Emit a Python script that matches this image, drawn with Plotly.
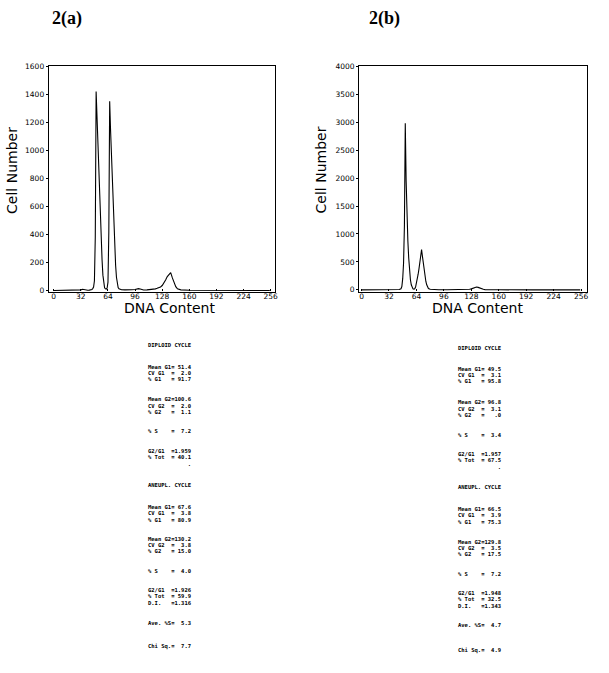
import plotly.graph_objects as go

W, H = 609, 673

# ---------------- data ----------------
panel_titles = ["2(a)", "2(b)"]
x_title = "DNA Content"
y_title = "Cell Number"
x_ticks = [0, 32, 64, 96, 128, 160, 192, 224, 256]
a_y_ticks = [0, 200, 400, 600, 800, 1000, 1200, 1400, 1600]
b_y_ticks = [0, 500, 1000, 1500, 2000, 2500, 3000, 3500, 4000]

a_channels = [0, 28, 32, 34, 36, 38, 40, 42, 44, 45,
              46, 47, 48, 49, 50, 51, 52, 53, 54, 55,
              56, 57, 58, 59, 60, 61, 62, 63, 64, 65,
              66, 67, 68, 69, 70, 71, 72, 73, 74, 75,
              76, 77, 78, 80, 84, 88, 92, 96, 98, 100,
              102, 104, 106, 110, 114, 118, 120, 122, 124, 126,
              128, 130, 132, 134, 136, 138, 140, 142, 144, 146,
              150, 160, 200, 255]
a_counts = [0, 0, 5, 9, 6, 3, 2, 3, 5, 8,
            14, 25, 70, 380, 1420, 1230, 1060, 900, 720, 540,
            370, 220, 110, 45, 20, 12, 10, 18, 60, 420,
            1350, 1150, 980, 800, 620, 450, 300, 180, 95, 45,
            22, 12, 8, 6, 5, 4, 6, 8, 12, 14,
            11, 7, 4, 5, 6, 9, 12, 16, 20, 26,
            36, 52, 75, 100, 118, 128, 90, 55, 28, 12,
            5, 2, 0, 0]

b_channels = [0, 14, 16, 30, 40, 44, 46, 47, 48, 49,
              50, 51, 52, 53, 54, 55, 56, 57, 58, 59,
              60, 61, 62, 63, 64, 65, 66, 67, 68, 69,
              70, 71, 72, 73, 74, 75, 76, 77, 78, 80,
              84, 90, 100, 110, 120, 126, 128, 130, 132, 134,
              136, 138, 140, 142, 144, 150, 160, 200, 255]
b_counts = [0, 0, 2, 0, 3, 6, 20, 60, 200, 480,
            1150, 2980, 1950, 1300, 880, 570, 330, 180, 90, 40,
            18, 12, 20, 50, 110, 190, 280, 380, 500, 610,
            720, 600, 470, 350, 240, 150, 90, 50, 25, 10,
            5, 3, 3, 2, 5, 10, 18, 30, 42, 50,
            44, 30, 18, 10, 5, 2, 1, 0, 0]

a_stats = ["DIPLOID CYCLE",
           "Mean G1= 51.4", "CV G1  =  2.0", "% G1   = 91.7",
           "Mean G2=100.6", "CV G2  =  2.0", "% G2   =  1.1",
           "% S    =  7.2",
           "G2/G1  =1.959", "% Tot  = 40.1", "            .",
           "ANEUPL. CYCLE",
           "Mean G1= 67.6", "CV G1  =  3.8", "% G1   = 80.9",
           "Mean G2=130.2", "CV G2  =  3.8", "% G2   = 15.0",
           "% S    =  4.0",
           "G2/G1  =1.926", "% Tot  = 59.9", "D.I.   =1.316",
           "Ave. %S=  5.3",
           "Chi Sq.=  7.7"]
b_stats = ["DIPLOID CYCLE",
           "Mean G1= 49.5", "CV G1  =  3.1", "% G1   = 95.8",
           "Mean G2= 96.8", "CV G2  =  3.1", "% G2   =   .0",
           "% S    =  3.4",
           "G2/G1  =1.957", "% Tot  = 67.5", "            .",
           "ANEUPL. CYCLE",
           "Mean G1= 66.5", "CV G1  =  3.9", "% G1   = 75.3",
           "Mean G2=129.8", "CV G2  =  3.5", "% G2   = 17.5",
           "% S    =  7.2",
           "G2/G1  =1.948", "% Tot  = 32.5", "D.I.   =1.343",
           "Ave. %S=  4.7",
           "Chi Sq.=  4.9"]

# ---------------- layout (pixels) ----------------
a_rows = [345, 367, 373.5, 380, 400, 406.5, 413, 432, 452, 458.5, 466, 487,
          509, 515.5, 522, 541, 547.5, 554, 574, 593, 599.5, 606, 626, 650]
b_rows = [348, 369, 375.5, 382, 403, 409.5, 416, 436, 455, 461.5, 469, 489,
          511, 517.5, 524, 544, 550.5, 557, 577, 596, 602.5, 609, 628, 654]
a_text_x, b_text_x = 148, 459

fx = lambda px: px / W
fy = lambda py: 1 - py / H

fig = go.Figure()
fig.add_trace(go.Scatter(x=a_channels, y=a_counts, mode="lines",
                         line=dict(color="black", width=1.1),
                         xaxis="x", yaxis="y", showlegend=False))
fig.add_trace(go.Scatter(x=b_channels, y=b_counts, mode="lines",
                         line=dict(color="black", width=1.1),
                         xaxis="x2", yaxis="y2", showlegend=False))

tickfont = dict(family="DejaVu Sans", size=7.5, color="black")
common = dict(showline=True, mirror=True, linecolor="black", linewidth=1.2,
              showgrid=False, zeroline=False, ticklen=2,
              tickcolor="black", tickfont=tickfont, fixedrange=True)

fig.update_layout(
    width=W, height=H, margin=dict(l=0, r=0, t=0, b=0),
    paper_bgcolor="white", plot_bgcolor="white",
    xaxis=dict(domain=[fx(49), fx(276)], anchor="y", range=[-5.9, 260.7],
               tickvals=x_ticks, ticks="inside", **common),
    yaxis=dict(domain=[fy(291), fy(63)], anchor="x", range=[-7, 1600],
               tickvals=a_y_ticks, ticks="outside", **common),
    xaxis2=dict(domain=[fx(361), fx(590)], anchor="y2", range=[-2.7, 263],
                tickvals=x_ticks, ticks="inside", **common),
    yaxis2=dict(domain=[fy(291), fy(63)], anchor="x2", range=[-30, 4000],
                tickvals=b_y_ticks, ticks="outside", **common),
)
try:
    fig.update_layout(xaxis_ticklabelstandoff=-3, xaxis2_ticklabelstandoff=-3)
except Exception:
    pass

ann = []
title_font = dict(family="Liberation Serif", size=18, color="black")
for t, cx in zip(panel_titles, (67, 386)):
    ann.append(dict(text="<b>%s</b>" % t, x=fx(cx), y=fy(15), xref="paper",
                    yref="paper", showarrow=False, font=title_font,
                    xanchor="center", yanchor="middle"))

lab_font = dict(family="DejaVu Sans", size=14, color="black")
for cx in (170, 480):
    ann.append(dict(text=x_title, x=fx(cx), y=fy(308), xref="paper", yref="paper",
                    showarrow=False, font=lab_font, xanchor="center", yanchor="middle"))
for cx in (12, 323):
    ann.append(dict(text=y_title, x=fx(cx), y=fy(168), xref="paper", yref="paper",
                    showarrow=False, font=lab_font, textangle=-90,
                    xanchor="center", yanchor="middle"))

mono = dict(family="DejaVu Sans Mono", size=5.5, color="black", weight="bold")
for lines, rows, tx in ((a_stats, a_rows, a_text_x), (b_stats, b_rows, b_text_x)):
    for s, r in zip(lines, rows):
        ann.append(dict(text=s.replace(" ", "\u00a0"), x=fx(tx), y=fy(r),
                        xref="paper", yref="paper", showarrow=False, font=mono,
                        xanchor="left", yanchor="middle", borderpad=0))

fig.update_layout(annotations=ann)
fig.write_html("out.html", config={"displayModeBar": False},
               post_script="document.body.style.margin='0';"
                           "document.body.style.overflow='hidden';")
